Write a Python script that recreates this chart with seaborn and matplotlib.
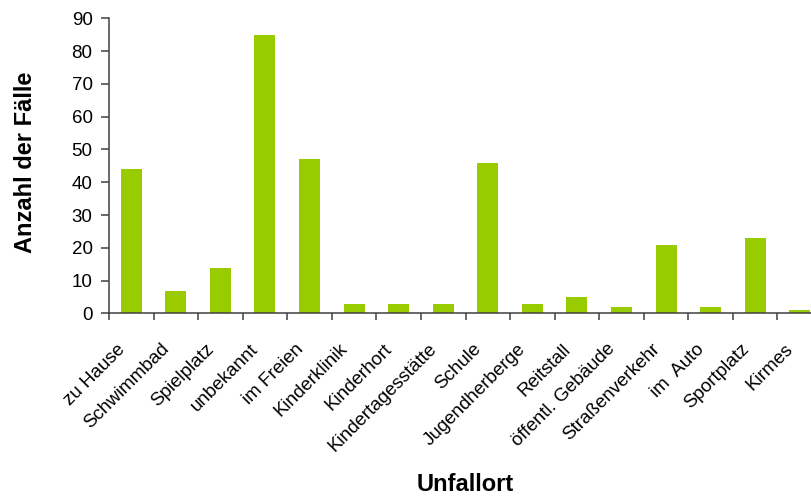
import matplotlib
matplotlib.use("Agg")
import matplotlib.pyplot as plt
import matplotlib.transforms as mtransforms
import numpy as np
import pandas as pd
import seaborn as sns

# Unfallorte und Anzahl der Fälle
orte = ["zu Hause", "Schwimmbad", "Spielplatz", "unbekannt", "im Freien",
        "Kinderklinik", "Kinderhort", "Kindertagesstätte", "Schule",
        "Jugendherberge", "Reitstall", "öffentl. Gebäude", "Straßenverkehr",
        "im  Auto", "Sportplatz", "Kirmes"]
faelle = [44, 7, 14, 85, 47, 3, 3, 3, 46, 3, 5, 2, 21, 2, 23, 1]
y_ticks = [0, 10, 20, 30, 40, 50, 60, 70, 80, 90]

df = pd.DataFrame({"Unfallort": orte, "Anzahl": faelle})

sns.set_style("white")
plt.rcParams["font.family"] = ["Liberation Sans", "DejaVu Sans"]
plt.rcParams["text.color"] = "black"
plt.rcParams["axes.labelcolor"] = "black"
plt.rcParams["xtick.labelcolor"] = "black"
plt.rcParams["ytick.labelcolor"] = "black"

W, H = 811, 498
fig = plt.figure(figsize=(W / 100, H / 100), dpi=100)
left, right, top, bottom = 109, 822, 18.3, 313.5
ax = fig.add_axes([left / W, 1 - bottom / H, (right - left) / W, (bottom - top) / H])

sns.barplot(data=df, x="Unfallort", y="Anzahl", color="#99CC00",
            width=0.47, saturation=1, linewidth=0, ax=ax)

ax.set_xlim(-0.5, len(orte) - 0.5)
ax.set_ylim(0, 90)
ax.set_yticks(y_ticks)

spine_color = "#404040"
for s in ["top", "right"]:
    ax.spines[s].set_visible(False)
for s in ["left", "bottom"]:
    ax.spines[s].set_color(spine_color)
    ax.spines[s].set_linewidth(1.1)

# category boundaries carry the tick marks, centers carry the labels
ax.set_xticks(np.arange(len(orte)))
ax.set_xticks(np.arange(len(orte) + 1) - 0.5, minor=True)
ax.tick_params(axis="x", which="major", length=0, pad=19.5, labelcolor="black")
ax.tick_params(axis="x", which="minor", length=5, width=1.1,
               color=spine_color, direction="out", bottom=True)
ax.tick_params(axis="y", length=5.8, width=1.1, color=spine_color,
               direction="out", left=True, pad=6, labelsize=13.5,
               labelcolor="black")

offset = mtransforms.ScaledTranslation(-15 / 100, 0, fig.dpi_scale_trans)
for lbl in ax.get_xticklabels():
    lbl.set_fontsize(13.5)
    lbl.set_color("black")
    lbl.set_rotation(45)
    lbl.set_ha("right")
    lbl.set_va("top")
    lbl.set_rotation_mode("anchor")
    lbl.set_transform(lbl.get_transform() + offset)

ax.set_xlabel("Unfallort", fontsize=17, fontweight="bold", color="black")
ax.set_ylabel("Anzahl der Fälle", fontsize=17, fontweight="bold", color="black")
ax.xaxis.set_label_coords(0.5, -0.539)
ax.yaxis.set_label_coords(-0.101, 0.511)

fig.savefig("out.png", dpi=100)
